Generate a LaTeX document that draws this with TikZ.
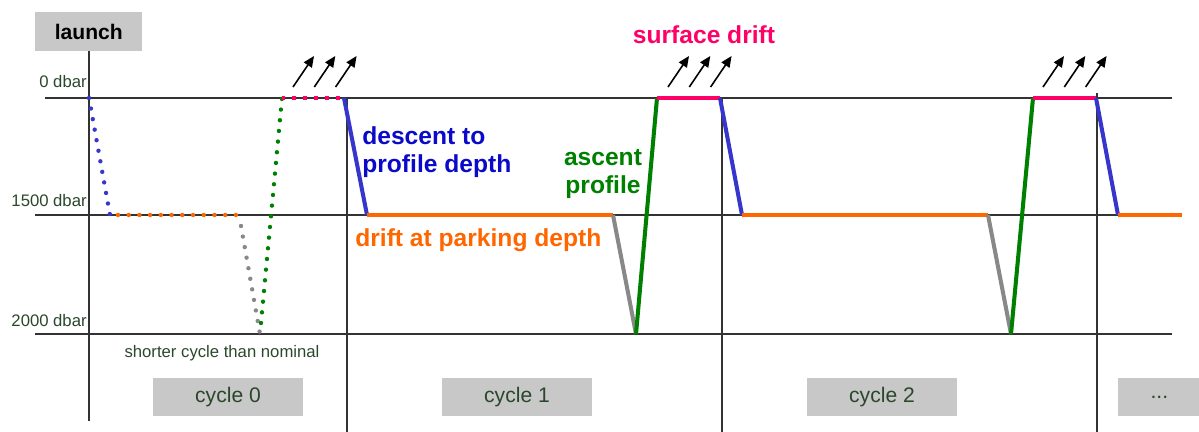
\documentclass[tikz,border=0pt]{standalone}
\usepackage{fontspec}
\setmainfont{Liberation Sans}
\usetikzlibrary{arrows.meta, positioning}
\definecolor{azul}{HTML}{3636CC}
\definecolor{azultxt}{HTML}{0A0AC8}
\definecolor{verde}{HTML}{008000}
\definecolor{naranja}{HTML}{FF6600}
\definecolor{rosa}{HTML}{FF0066}
\definecolor{gris}{HTML}{888888}
\definecolor{oliva}{HTML}{2B472B}
\definecolor{caja}{HTML}{C8C8C8}

\begin{document}
\begin{tikzpicture}[x=0.02cm, y=-0.02cm,
      axis/.style={draw=black!80, line width=0.8pt},
      phase/.style={line width=2.3pt},
      dots/.style={line width=2.5pt, line cap=round, dash pattern=on 0pt off 6.1pt},
      squares/.style={line width=2.2pt, dash pattern=on 2.2pt off 4.05pt},
      tag/.style={fill=caja, text=oliva, font=\fontsize{12}{14}\selectfont,
                  minimum width=3cm, minimum height=0.78cm, inner sep=0pt},
      level/.style={text=oliva, font=\fontsize{9.5}{11}\selectfont, inner sep=0pt, anchor=base east},
      phaselbl/.style={font=\fontsize{14}{16}\selectfont\bfseries, inner sep=0pt},
      wind/.style={-{Triangle[length=0.22cm, width=0.19cm]}, line width=0.9pt} ]

    \useasboundingbox (0,0) rectangle (1199,432);

    % pressure levels and cycle borders
    \draw[axis] (45,98) -- (1172,98);
    \draw[axis] (35,215) -- (1172,215);
    \draw[axis] (35,334) -- (1172,334);
    \draw[axis] (89,51) -- (89,421);
    \draw[axis] (347,98) -- (347,432);
    \draw[axis] (722,98) -- (722,432);
    \draw[axis] (1097,93) -- (1097,432);

    \node[level] (p0) at (87,88) {0 dbar};
    \node[level] (p1500) at (87,207) {1500 dbar};
    \node[level] (p2000) at (87,326) {2000 dbar};

    \node[tag, text=black, font=\fontsize{12}{14}\selectfont\bfseries,
          minimum width=2.14cm, minimum height=0.77cm, anchor=north west] (launch) at (35,12) {launch};

    % cycle 0 (dotted)
    \draw[dots, azul] (89,98) -- (110,215);
    \draw[dots, naranja] (118,215) -- (240,215);
    \draw[dots, gris] (241,226) -- (260,334);
    \draw[dots, verde] (261,323) -- (282,98);
    \draw[squares, rosa] (281.5,98) -- (342,98);

    % cycle 1
    \draw[phase, azul] (344,98) -- (367,215);
    \draw[phase, naranja] (367,215) -- (613,215);
    \draw[phase, gris] (613,215) -- (636,334);
    \draw[phase, verde] (636,334) -- (657,98);
    \draw[phase, rosa] (657,98) -- (720,98);

    % cycle 2
    \draw[phase, azul] (720,98) -- (742,215);
    \draw[phase, naranja] (742,215) -- (988,215);
    \draw[phase, gris] (988,215) -- (1011,334);
    \draw[phase, verde] (1011,334) -- (1033,98);
    \draw[phase, rosa] (1033,98) -- (1096,98);
    \draw[phase, azul] (1096,98) -- (1118,215);
    \draw[phase, naranja] (1118,215) -- (1182,215);

    % surface transmission
    \foreach \x in {293,668,1043}
      \foreach \k in {0,21.3,42.6}
        \draw[wind] (\x+\k,87) -- ++(21,-31);

    \node[phaselbl, text=rosa] (surf) at (704,35) {surface drift};
    \node[phaselbl, text=azultxt, align=left, anchor=west] (desc) at (362,152) {descent to\\profile depth};
    \node[phaselbl, text=verde, align=center] (asc) at (603,174) {ascent\\profile};
    \node[phaselbl, text=naranja, anchor=west] (park) at (355,240) {drift at parking depth};
    \node[level, anchor=center] (short) at (222,353) {shorter cycle than nominal};

    \node[tag] (c0) at (228,397) {cycle 0};
    \node[tag] (c1) at (517,397) {cycle 1};
    \node[tag] (c2) at (882,397) {cycle 2};
    \node[tag, minimum width=1.64cm, anchor=west] (cn) at (1118,397) {...};
  \end{tikzpicture}
\end{document}
